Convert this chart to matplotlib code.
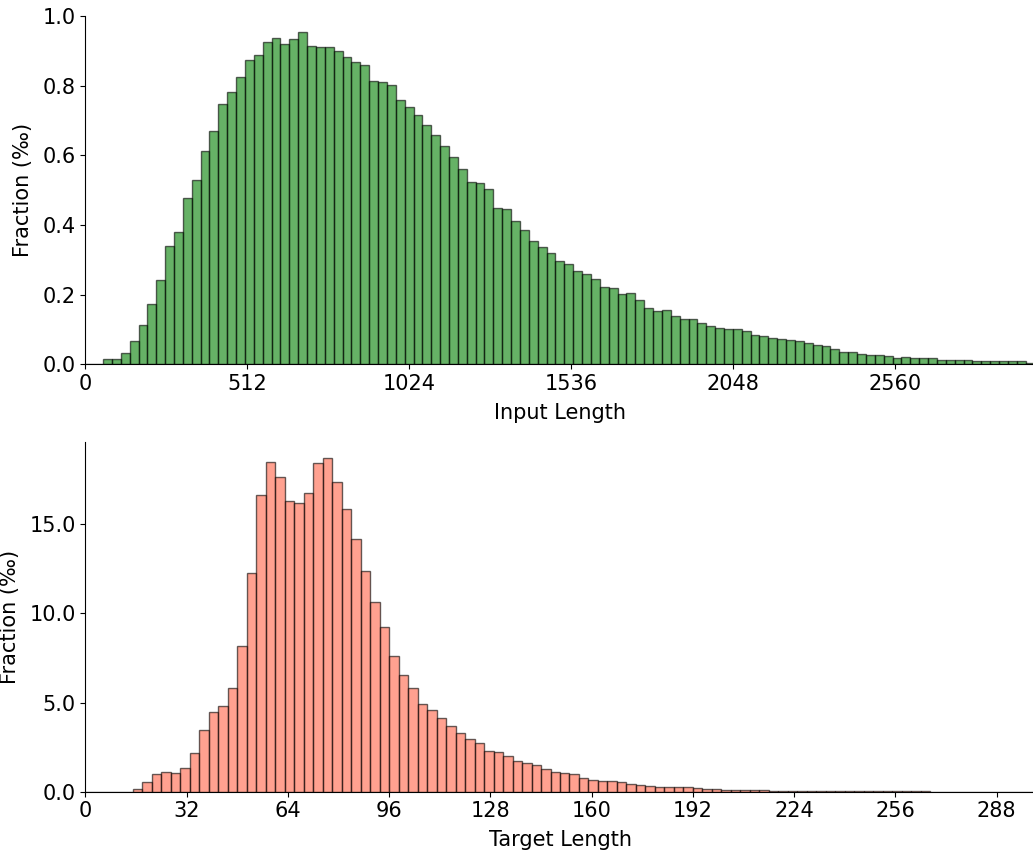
import numpy as np
import matplotlib
matplotlib.use("Agg")
import matplotlib.pyplot as plt
from matplotlib.ticker import FormatStrFormatter

# Length distributions, expressed as fraction per mille for each bin
input_range = (0, 3000)
input_fraction = [
    0.000, 0.002, 0.015, 0.015, 0.033, 0.068, 0.113, 0.173, 0.241, 0.339,
    0.380, 0.478, 0.530, 0.611, 0.670, 0.747, 0.782, 0.824, 0.874, 0.888,
    0.924, 0.937, 0.919, 0.933, 0.953, 0.913, 0.910, 0.910, 0.899, 0.881,
    0.867, 0.859, 0.812, 0.809, 0.801, 0.760, 0.738, 0.716, 0.688, 0.659,
    0.626, 0.594, 0.560, 0.523, 0.521, 0.503, 0.450, 0.447, 0.410, 0.385,
    0.355, 0.337, 0.319, 0.296, 0.289, 0.267, 0.260, 0.244, 0.223, 0.218,
    0.201, 0.204, 0.184, 0.161, 0.153, 0.155, 0.138, 0.129, 0.129, 0.118,
    0.111, 0.105, 0.102, 0.100, 0.096, 0.085, 0.081, 0.076, 0.073, 0.070,
    0.067, 0.061, 0.056, 0.052, 0.043, 0.036, 0.035, 0.030, 0.026, 0.026,
    0.023, 0.017, 0.020, 0.017, 0.017, 0.017, 0.013, 0.013, 0.013, 0.013,
    0.010, 0.010, 0.010, 0.010, 0.009, 0.009, 0.005,
]
input_ticks = [0, 512, 1024, 1536, 2048, 2560]

target_range = (0, 300)
target_fraction = [
    0.00, 0.00, 0.00, 0.00, 0.00, 0.13, 0.56, 0.98, 1.09, 1.03,
    1.35, 2.17, 3.45, 4.48, 4.83, 5.79, 8.20, 12.29, 16.67, 18.50,
    17.64, 16.32, 16.20, 16.76, 18.43, 18.70, 17.40, 15.87, 14.20, 12.36,
    10.62, 9.24, 7.64, 6.57, 5.79, 4.91, 4.56, 4.15, 3.67, 3.28,
    2.98, 2.72, 2.29, 2.21, 2.02, 1.72, 1.61, 1.52, 1.29, 1.12,
    1.05, 0.98, 0.75, 0.66, 0.62, 0.58, 0.53, 0.42, 0.36, 0.32,
    0.28, 0.28, 0.28, 0.25, 0.19, 0.14, 0.13, 0.12, 0.10, 0.09,
    0.08, 0.07, 0.06, 0.06, 0.05, 0.05, 0.04, 0.04, 0.04, 0.03,
    0.03, 0.03, 0.03, 0.02, 0.02, 0.02, 0.02, 0.02, 0.02, 0.01,
    0.01, 0.01, 0.01, 0.01, 0.01, 0.01, 0.01, 0.01, 0.01, 0.01,
]
target_ticks = [0, 32, 64, 96, 128, 160, 192, 224, 256, 288]

plt.rcParams["font.family"] = ["DejaVu Sans"]
plt.rcParams["font.size"] = 15

W, H = 1033, 856
fig = plt.figure(figsize=(W / 100, H / 100), dpi=100)

ax_top = fig.add_axes([85.3 / W, (H - 364.3) / H, 949.2 / W, 348.6 / H])
ax_bot = fig.add_axes([85.4 / W, (H - 791.7) / H, 949.2 / W, 350.0 / H])


def draw_hist(ax, values, value_range, color, alpha, ticks, xlabel):
    values = np.asarray(values)
    edges = np.linspace(value_range[0], value_range[1], len(values) + 1)
    ax.bar(edges[:-1], values, width=np.diff(edges), align="edge",
           color=color, alpha=alpha, edgecolor="black", linewidth=1.0)
    ax.set_xlim(*value_range)
    ax.set_ylim(0, values.max() * 1.05)
    ax.set_xticks(ticks)
    ax.yaxis.set_major_formatter(FormatStrFormatter("%.1f"))
    ax.set_xlabel(xlabel, labelpad=6.5)
    ax.set_ylabel("Fraction (‰)", labelpad=7)
    ax.spines["top"].set_visible(False)
    ax.spines["right"].set_visible(False)


draw_hist(ax_top, input_fraction, input_range, "green", 0.6,
          input_ticks, "Input Length")
draw_hist(ax_bot, target_fraction, target_range, "tomato", 0.6,
          target_ticks, "Target Length")
ax_bot.set_yticks([0, 5, 10, 15])

fig.savefig("out.png", dpi=100)
